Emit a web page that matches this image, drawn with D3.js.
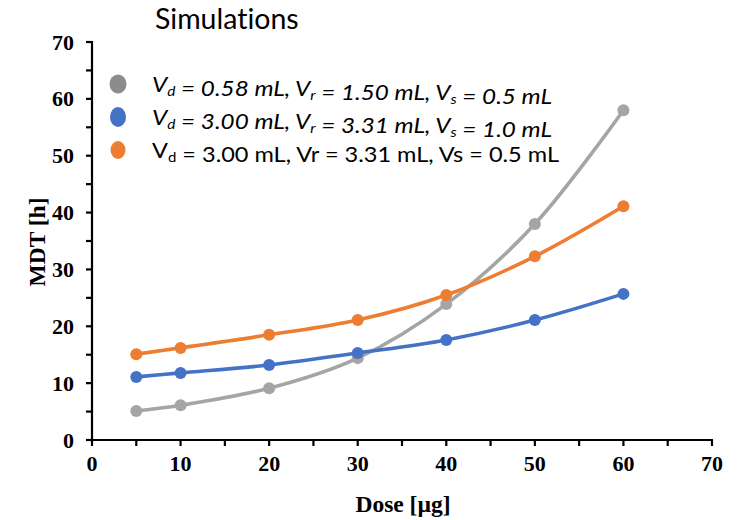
<!DOCTYPE html>
<html>
<head>
<meta charset="utf-8">
<script src="https://cdn.jsdelivr.net/npm/d3@7"></script>
<style>
	body { margin: 0; background: #fff; }
	text { font-variant-ligatures: none; }
	.tick-label { font-family: "Liberation Serif", serif; font-weight: bold; font-size: 22px; }
	.axis-title { font-family: "Liberation Serif", serif; font-weight: bold; font-size: 23.5px; }
	.legend-text { font-family: Lato, "Open Sans", sans-serif; font-size: 22px; }
</style>
</head>
<body>
<svg id="chart" width="740" height="520"></svg>
<script>
// data
let doses = [5, 10, 20, 30, 40, 50, 60];
let mdt_gray = [5.1, 6.1, 9.1, 14.4, 23.9, 38.0, 58.0];
let mdt_blue = [11.1, 11.8, 13.2, 15.3, 17.6, 21.1, 25.7];
let mdt_orange = [15.1, 16.2, 18.5, 21.1, 25.5, 32.3, 41.1];
let x_ticks = [0, 10, 20, 30, 40, 50, 60, 70];
let y_ticks = [0, 10, 20, 30, 40, 50, 60, 70];
let minor_ticks = [5, 15, 25, 35, 45, 55, 65];

let series = [
	{ name: "gray", values: mdt_gray, color: "#A5A5A5" },
	{ name: "blue", values: mdt_blue, color: "#4472C4" },
	{ name: "orange", values: mdt_orange, color: "#ED7D31" }
];

// legend lines: [text, is_subscript] pieces
let legend_items = [
	{ color: "#8C8C8C", italic: true, rx: 8.5, ry: 9.5, len: 400,
	  parts: [["V", 0], ["d", 1], [" = 0.58 mL, V", 0], ["r", 1], [" = 1.50 mL, V", 0], ["s", 1], [" = 0.5 mL", 0]] },
	{ color: "#4472C4", italic: true, rx: 8, ry: 10, len: 400,
	  parts: [["V", 0], ["d", 1], [" = 3.00 mL, V", 0], ["r", 1], [" = 3.31 mL, V", 0], ["s", 1], [" = 1.0 mL", 0]] },
	{ color: "#ED7D31", italic: false, rx: 7.5, ry: 9, len: 407,
	  parts: [["V", 0], ["d", 1], [" = 3.00 mL, Vr = 3.31 mL, Vs = 0.5 mL", 0]] }
];

let svg = d3.select("#chart");

let x = d3.scaleLinear().domain([0, 70]).range([92, 712]);
let y = d3.scaleLinear().domain([0, 70]).range([440, 42]);

// Title
svg.append("text")
	.attr("x", 155)
	.attr("y", 29)
	.attr("font-family", "Lato, 'Open Sans', sans-serif")
	.attr("font-size", 28.5)
	.attr("fill", "#000")
	.text("Simulations");

// Axes lines
let axes = svg.append("g").attr("stroke", "#000").attr("stroke-width", 2.2);
axes.append("line").attr("x1", x(0) - 1).attr("x2", x(70) + 1).attr("y1", y(0)).attr("y2", y(0));
axes.append("line").attr("x1", x(0)).attr("x2", x(0)).attr("y1", y(0)).attr("y2", y(70) - 1);

// ticks
axes.selectAll(".xt").data(x_ticks.concat(minor_ticks)).enter().append("line")
	.attr("x1", d => x(d)).attr("x2", d => x(d))
	.attr("y1", y(0)).attr("y2", y(0) + 6);
axes.selectAll(".yt").data(y_ticks.concat(minor_ticks)).enter().append("line")
	.attr("x1", x(0) - 6).attr("x2", x(0))
	.attr("y1", d => y(d)).attr("y2", d => y(d));

// Tick labels
svg.selectAll(".xl").data(x_ticks).enter().append("text")
	.attr("class", "tick-label")
	.attr("x", d => x(d))
	.attr("y", 471)
	.attr("text-anchor", "middle")
	.text(d => d);

svg.selectAll(".yl").data(y_ticks).enter().append("text")
	.attr("class", "tick-label")
	.attr("x", 74)
	.attr("y", d => y(d) + 7.5)
	.attr("text-anchor", "end")
	.text(d => d);

// Axis titles
svg.append("text")
	.attr("class", "axis-title")
	.attr("x", 403)
	.attr("y", 512)
	.attr("text-anchor", "middle")
	.text("Dose [µg]");

svg.append("text")
	.attr("class", "axis-title")
	.attr("transform", "translate(45,242) rotate(-90)")
	.attr("text-anchor", "middle")
	.text("MDT [h]");

// Lines and points
let line = d3.line()
	.x(d => x(d[0]))
	.y(d => y(d[1]))
	.curve(d3.curveCatmullRom.alpha(0.5));

series.forEach(function(s) {
	let pts = d3.zip(doses, s.values);
	let g = svg.append("g");
	g.append("path")
		.attr("d", line(pts))
		.attr("fill", "none")
		.attr("stroke", s.color)
		.attr("stroke-width", 3.6);
	g.selectAll("circle").data(pts).enter().append("circle")
		.attr("cx", d => x(d[0]))
		.attr("cy", d => y(d[1]))
		.attr("r", 6)
		.attr("fill", s.color);
});

// Legend
let legend = svg.append("g");
legend_items.forEach(function(item, i) {
	let cy = 84 + i * 33;
	legend.append("ellipse")
		.attr("cx", 118)
		.attr("cy", cy)
		.attr("rx", item.rx)
		.attr("ry", item.ry)
		.attr("fill", item.color);
	let t = legend.append("text")
		.attr("class", "legend-text")
		.attr("x", 152)
		.attr("y", cy + 8)
		.attr("textLength", item.len)
		.attr("lengthAdjust", "spacingAndGlyphs")
		.attr("font-style", item.italic ? "italic" : "normal");
	item.parts.forEach(function(p) {
		if (p[1]) {
			t.append("tspan").attr("font-size", 14).attr("dy", 4).text(p[0]);
		} else {
			t.append("tspan").attr("dy", 0).text(p[0]);
		}
		if (p[1]) t.append("tspan").attr("dy", -4).text("");
	});
});
</script>
</body>
</html>
